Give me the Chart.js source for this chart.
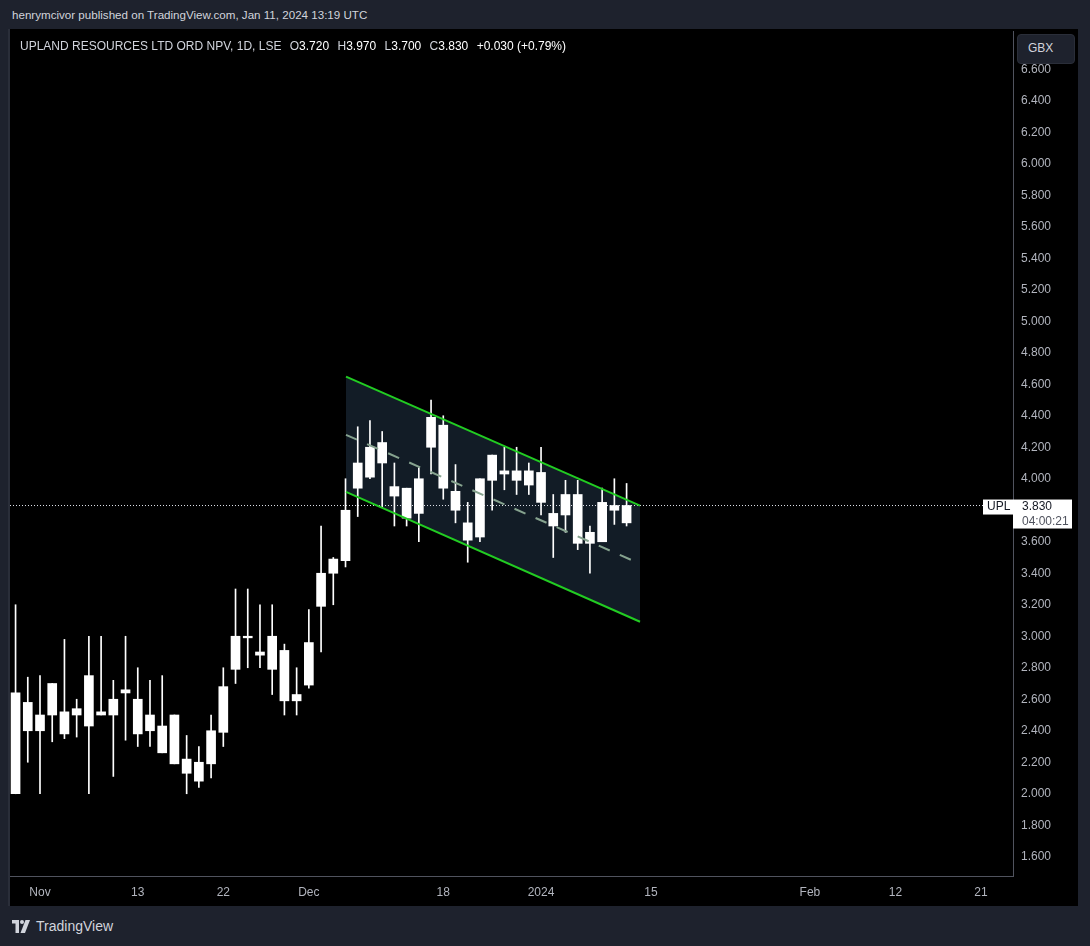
<!DOCTYPE html>
<html>
<head>
<meta charset="utf-8">
<title>UPL 1D</title>
<script src="https://cdn.jsdelivr.net/npm/chart.js@4.4.1/dist/chart.umd.min.js"></script>
<style>
  html, body { margin: 0; padding: 0; width: 1090px; height: 946px; overflow: hidden; background: #1e222d; font-family: "Liberation Sans", Arial, sans-serif; }
  #byline { position: absolute; left: 12px; top: 8px; color: #d1d4dc; font-size: 11.6px; white-space: nowrap; }
  #panel { position: absolute; left: 8px; top: 29px; width: 1070px; height: 877px; background: #000; border-left: 2px solid #2a2e39; box-sizing: border-box; }
  #wrap { position: absolute; left: 10px; top: 31px; width: 1068px; height: 875px; }
  #title { position: absolute; left: 20px; top: 39px; color: #d1d4dc; font-size: 12px; white-space: nowrap; }
  #title span { margin-left: 5px; }
  #title b { font-weight: normal; color: #ffffff; }
  #gbx { position: absolute; left: 1017px; top: 34px; width: 58px; height: 30px; box-sizing: border-box; border-radius: 4px; background: #1e222d; border: 1px solid #2a2e39; color: #d1d4dc; font-size: 12px; line-height: 26px; padding-left: 10px; }
  #brand { position: absolute; left: 12px; top: 918px; color: #d1d4dc; font-size: 14px; display: flex; align-items: center; }
  #brand svg { margin-right: 6px; }
</style>
</head>
<body>
<div id="byline">henrymcivor published on TradingView.com, Jan 11, 2024 13:19 UTC</div>
<div id="panel"></div>
<div id="wrap"><canvas id="uplChart"></canvas></div>
<div id="title">UPLAND RESOURCES LTD ORD NPV, 1D, LSE <span>O<b>3.720</b></span> <span>H<b>3.970</b></span> <span>L<b>3.700</b></span> <span>C<b>3.830</b></span> <span><b>+0.030 (+0.79%)</b></span></div>
<div id="gbx">GBX</div>
<div id="brand">
  <svg width="18" height="13" viewBox="0 0 36 26"><path d="M0 0h14v26H7V7H0z" fill="#d1d4dc"/><circle cx="20" cy="4" r="4" fill="#d1d4dc"/><path d="M27 0h9L26 26h-9z" fill="#d1d4dc"/></svg>
  TradingView
</div>
<script>
// Daily candles, Oct 30 2023 .. Jan 11 2024 (index = trading day)
const opens  = [2.64, 2.40, 2.40, 2.50, 2.38, 2.50, 2.43, 2.52, 2.50, 2.64, 2.60, 2.40, 2.43, 2.50, 2.22, 2.20, 2.19, 2.39, 2.79, 3.00, 2.90, 3.00, 2.91, 2.59, 2.69, 3.19,
                3.40, 3.48, 3.94, 4.01, 4.23, 3.95, 3.94, 3.78, 4.20, 4.34, 3.92, 3.61, 3.63, 3.99, 4.05, 4.05, 4.05, 4.04, 3.70, 3.77, 3.90, 3.59, 3.60, 3.80, 3.72];
const highs  = [3.20, 2.74, 2.75, 2.70, 2.98, 2.60, 3.00, 3.00, 2.72, 3.00, 2.80, 2.72, 2.75, 2.50, 2.37, 2.30, 2.50, 2.80, 3.30, 3.30, 3.20, 3.20, 2.95, 2.80, 3.17, 3.70,
                3.50, 4.00, 4.33, 4.37, 4.30, 4.10, 3.94, 4.07, 4.50, 4.40, 4.09, 3.85, 4.00, 4.15, 4.20, 4.20, 4.10, 4.20, 3.90, 3.99, 3.99, 3.70, 3.94, 4.00, 3.97];
const lows   = [2.00, 2.20, 2.00, 2.33, 2.35, 2.36, 2.00, 2.50, 2.11, 2.34, 2.30, 2.30, 2.26, 2.19, 2.00, 2.04, 2.10, 2.30, 2.70, 2.80, 2.80, 2.63, 2.50, 2.50, 2.67, 2.90,
                3.20, 3.44, 3.76, 4.00, 3.82, 3.70, 3.70, 3.60, 4.03, 3.87, 3.72, 3.47, 3.60, 3.80, 3.93, 3.90, 3.90, 3.77, 3.50, 3.66, 3.55, 3.40, 3.60, 3.71, 3.70];
const closes = [2.00, 2.58, 2.50, 2.70, 2.52, 2.54, 2.75, 2.50, 2.60, 2.66, 2.38, 2.50, 2.26, 2.19, 2.13, 2.08, 2.40, 2.68, 3.00, 2.99, 2.88, 2.79, 2.59, 2.63, 2.96, 3.40,
                3.49, 3.80, 4.10, 4.20, 4.10, 3.89, 3.75, 4.00, 4.39, 3.94, 3.80, 3.72, 4.00, 4.15, 4.03, 3.99, 3.96, 3.85, 3.78, 3.90, 3.59, 3.66, 3.85, 3.83, 3.83];

// time axis labels (trading-day index -> label)
const xTickIndex  = [2, 10, 17, 24, 35, 43, 52, 65, 72, 79];
const xTickLabels = ['Nov', '13', '22', 'Dec', '18', '2024', '15', 'Feb', '12', '21'];
// price axis labels
const yTicks = [1.6, 1.8, 2.0, 2.2, 2.4, 2.6, 2.8, 3.0, 3.2, 3.4, 3.6, 3.8, 4.0, 4.2, 4.4, 4.6, 4.8, 5.0, 5.2, 5.4, 5.6, 5.8, 6.0, 6.2, 6.4, 6.6];

// parallel channel drawing: [index, price] end points
const channelUpper = [[27.04, 4.648], [51.1, 3.829]];
const channelMid   = [[27.04, 4.279], [51.1, 3.460]];
const channelLower = [[27.04, 3.917], [51.1, 3.092]];

const xMin = -0.455, xMax = 81.62;
const yMin = 1.4778, yMax = 6.8428;
const lastClose = closes[closes.length - 1];

const toPts = arr => arr.map(p => ({ x: p[0], y: p[1] }));

const priceTags = {
  id: 'priceTags',
  afterDraw(chart) {
    const { ctx, chartArea } = chart;
    const y = chart.scales.y.getPixelForValue(lastClose);
    const r = chartArea.right;
    ctx.save();
    ctx.fillStyle = '#ffffff';
    ctx.fillRect(r - 30, y - 6, 30, 15);
    ctx.fillRect(r, y - 6, 59, 29);
    ctx.font = '12px "Liberation Sans", Arial, sans-serif';
    ctx.textBaseline = 'middle';
    ctx.fillStyle = '#131722';
    ctx.fillText('UPL', r - 26, y + 1);
    ctx.fillText('3.830', r + 9, y + 1);
    ctx.fillStyle = '#50535e';
    ctx.fillText('04:00:21', r + 9, y + 16);
    ctx.restore();
  }
};

const noPad = s => { s.paddingTop = 0; s.paddingBottom = 0; s.paddingLeft = 0; s.paddingRight = 0; };

const ctx = document.getElementById('uplChart');
const uplChart = new Chart(ctx, {
  type: 'bar',
  data: {
    datasets: [
      {
        type: 'line', label: 'channel lower', data: toPts(channelLower),
        borderColor: '#22cc22', borderWidth: 2, pointRadius: 0, order: 0
      },
      {
        type: 'line', label: 'channel upper', data: toPts(channelUpper),
        borderColor: '#22cc22', borderWidth: 2, pointRadius: 0, order: 0,
        fill: { target: 0 }, backgroundColor: '#121c26'
      },
      {
        type: 'line', label: 'channel mid', data: toPts(channelMid),
        borderColor: '#86a38f', borderWidth: 2, borderDash: [12, 11], pointRadius: 0, order: 0
      },
      {
        type: 'line', label: 'last price', data: [{ x: xMin, y: lastClose }, { x: xMax, y: lastClose }],
        borderColor: '#e0e3eb', borderWidth: 1, borderDash: [1, 2], pointRadius: 0, order: 3
      },
      {
        label: 'wicks', data: lows.map((l, i) => ({ x: i, y: [l, highs[i]] })),
        backgroundColor: '#ffffff', barThickness: 1, grouped: false, order: 2
      },
      {
        label: 'bodies', data: opens.map((o, i) => ({ x: i, y: [o, closes[i]] })),
        backgroundColor: '#ffffff', barThickness: 9, minBarLength: 1, grouped: false, order: 1
      }
    ]
  },
  options: {
    responsive: true,
    maintainAspectRatio: false,
    animation: false,
    layout: { padding: 0 },
    plugins: {
      legend: { display: false },
      tooltip: { enabled: false },
      filler: { drawTime: 'beforeDatasetsDraw' }
    },
    scales: {
      x: {
        type: 'linear', min: xMin, max: xMax, offset: false,
        grid: { display: false, drawTicks: false },
        border: { display: true, color: '#50535e' },
        afterBuildTicks: s => { s.ticks = xTickIndex.map(v => ({ value: v })); },
        afterFit: s => { s.height = 30; noPad(s); },
        ticks: {
          autoSkip: false, maxRotation: 0, padding: 9, color: '#b2b5be',
          font: { family: '"Liberation Sans", Arial, sans-serif', size: 12 },
          callback: (v, i) => xTickLabels[i]
        }
      },
      y: {
        position: 'right', min: yMin, max: yMax,
        grid: { display: false, drawTicks: false },
        border: { display: true, color: '#50535e' },
        afterBuildTicks: s => { s.ticks = yTicks.map(v => ({ value: v })); },
        afterFit: s => { s.width = 65; noPad(s); },
        ticks: {
          padding: 8, color: '#b2b5be',
          font: { family: '"Liberation Sans", Arial, sans-serif', size: 12 },
          callback: v => v.toFixed(3)
        }
      }
    }
  },
  plugins: [priceTags]
});
</script>
</body>
</html>
